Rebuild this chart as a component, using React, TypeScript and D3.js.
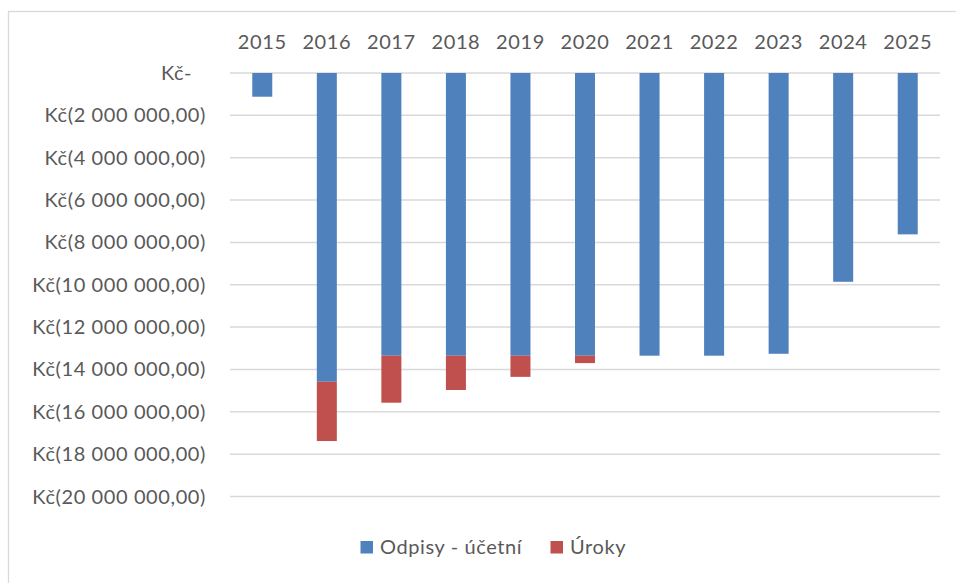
import React from "react";
import * as d3 from "d3";

const years = ["2015", "2016", "2017", "2018", "2019", "2020", "2021", "2022", "2023", "2024", "2025"];
const odpisy = [-1120000, -14580000, -13350000, -13350000, -13350000, -13350000, -13350000, -13350000, -13260000, -9860000, -7620000];
const uroky = [0, -2800000, -2220000, -1620000, -1000000, -350000, 0, 0, 0, 0, 0];
const yTicks = [0, -2000000, -4000000, -6000000, -8000000, -10000000, -12000000, -14000000, -16000000, -18000000, -20000000];
const seriesNames = ["Odpisy - účetní", "Úroky"];
const colors = ["#4F81BD", "#C0504D"];

const W = 956;
const H = 583;
const FONT = "Lato, 'Open Sans', sans-serif";
const TEXT = "#595959";
const FS = 20;
const LS = 0.6;

function fmt(v: number): string {
  if (v === 0) return "Kč-";
  const abs = Math.abs(v);
  const s = d3.format(",.2f")(abs).replace(/,/g, " ").replace(".", ",");
  return `Kč(${s})`;
}

export default function App() {
  const x = d3.scaleBand<string>().domain(years).range([230, 940]).paddingInner(0.69).paddingOuter(0.345);
  const y = d3.scaleLinear().domain([0, -20000000]).range([73, 496.5]);

  const rows = years.map((yr, i) => ({ year: yr, odpisy: odpisy[i], uroky: uroky[i] }));
  const stack = d3
    .stack<any>()
    .keys(["odpisy", "uroky"])
    .offset(d3.stackOffsetDiverging);
  const series = stack(rows);

  return (
    <div style={{ position: "absolute", left: 0, top: 0, width: W, height: H, background: "#fff" }}>
      <svg width={W} height={H} style={{ display: "block" }}>
        <rect x={8.5} y={11.5} width={W + 10} height={H + 10} fill="#fff" stroke="#d9d9d9" strokeWidth={1.3} />
        {yTicks.map((t) => (
          <line key={"g" + t} x1={230} x2={940} y1={y(t)} y2={y(t)} stroke="#d9d9d9" strokeWidth={1.5} />
        ))}
        {yTicks.map((t) => (
          <text
            key={"t" + t}
            x={t === 0 ? 192 : 206}
            y={y(t)}
            dy="0.35em"
            textAnchor="end"
            fontFamily={FONT}
            fontSize={FS}
            letterSpacing={LS}
            fill={TEXT}
          >
            {fmt(t)}
          </text>
        ))}
        {years.map((yr) => (
          <text
            key={"x" + yr}
            x={(x(yr) as number) + x.bandwidth() / 2}
            y={49}
            textAnchor="middle"
            fontFamily={FONT}
            fontSize={FS}
            letterSpacing={LS}
            fill={TEXT}
          >
            {yr}
          </text>
        ))}
        {series.map((s, si) => (
          <g key={"s" + si} fill={colors[si]}>
            {s.map((d, i) => {
              const y0 = y(d[0]);
              const y1 = y(d[1]);
              const top = Math.min(y0, y1);
              const h = Math.abs(y1 - y0);
              if (h < 0.01) return null;
              return (
                <rect
                  key={i}
                  x={x(d.data.year) as number}
                  y={top}
                  width={x.bandwidth()}
                  height={h}
                />
              );
            })}
          </g>
        ))}
        <g fontFamily={FONT} fontSize={FS} letterSpacing={LS} fill={TEXT}>
          <rect x={360.5} y={541} width={12.5} height={12.5} fill={colors[0]} />
          <text x={380} y={554}>{seriesNames[0]}</text>
          <rect x={550.5} y={541} width={12.5} height={12.5} fill={colors[1]} />
          <text x={570} y={554}>{seriesNames[1]}</text>
        </g>
      </svg>
    </div>
  );
}
